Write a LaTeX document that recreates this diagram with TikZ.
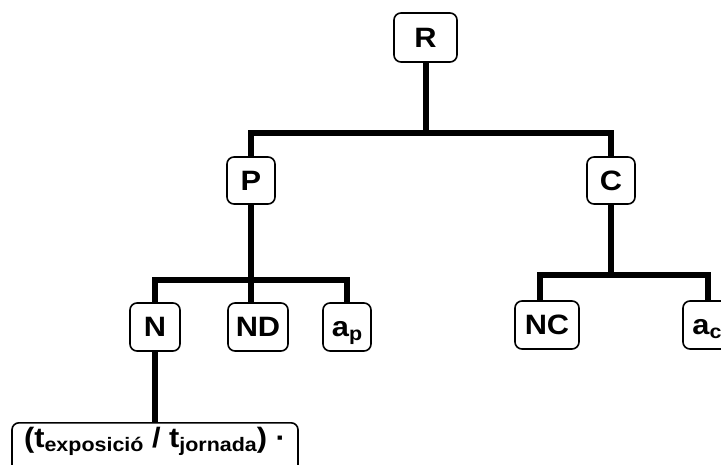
\documentclass[tikz,border=0pt]{standalone}
\usepackage{fontspec}
\setmainfont{Liberation Sans}[FakeStretch=1.1]
% small lowered index used in the labels
\newcommand\idx[1]{\raisebox{-0.12em}{\fontsize{19.5}{20}\selectfont #1}}
\tikzset{
  box/.style={draw, line width=1.6pt, rounded corners=7pt, inner sep=0pt,
    minimum height=48pt, text height=20pt, text depth=0pt,
    font=\fontsize{28}{32}\selectfont\bfseries},
  link/.style={line width=5.4pt}
}
\begin{document}
\begin{tikzpicture}[x=1pt, y=-1pt]
\useasboundingbox (0,0) rectangle (721,465);
\clip (0,0) rectangle (721,465);

% boxes
\node[box, minimum width=63pt, minimum height=49pt] (R) at (425.5,37.5) {R};
\node[box, minimum width=48pt, minimum height=47pt] (P) at (251,180.5) {P};
\node[box, minimum width=48pt, minimum height=47pt] (C) at (611,180.5) {C};
\node[box, minimum width=50pt] (N)  at (155,327) {N};
\node[box, minimum width=60pt] (ND) at (258,327) {ND};
\node[box, minimum width=48pt] (ap) at (347,327) {a\idx{p}};
\node[box, minimum width=64pt] (NC) at (547,325) {NC};
\node[box, minimum width=48pt] (ac) at (707,325) {a\idx{c}};
\node[box, minimum width=286pt, minimum height=0pt, text height=25pt,
      text depth=25pt, anchor=north] (F) at (155,422)
  {(t\idx{exposició} / t\idx{jornada}) ·};

% junction points of the tree
\coordinate (jR) at (426,133);
\coordinate (jP) at (251,280);
\coordinate (jC) at (611,275);

% R to P and C
\draw[link] (R.south -| jR) -- (jR);
\draw[link] (P.north) |- (jR) -| (C.north);

% P to N, ND, ap
\draw[link] (P.south) -- (jP);
\draw[link] (N.north) |- (jP) -| (ap.north);
\draw[link] (jP) -- (jP |- ND.north);

% C to NC, ac
\draw[link] (C.south) -- (jC);
\draw[link] (540,0 |- NC.north) |- (jC) -| (708,0 |- ac.north);

% N to formula
\draw[link] (N.south) -- (F.north);
\end{tikzpicture}
\end{document}
